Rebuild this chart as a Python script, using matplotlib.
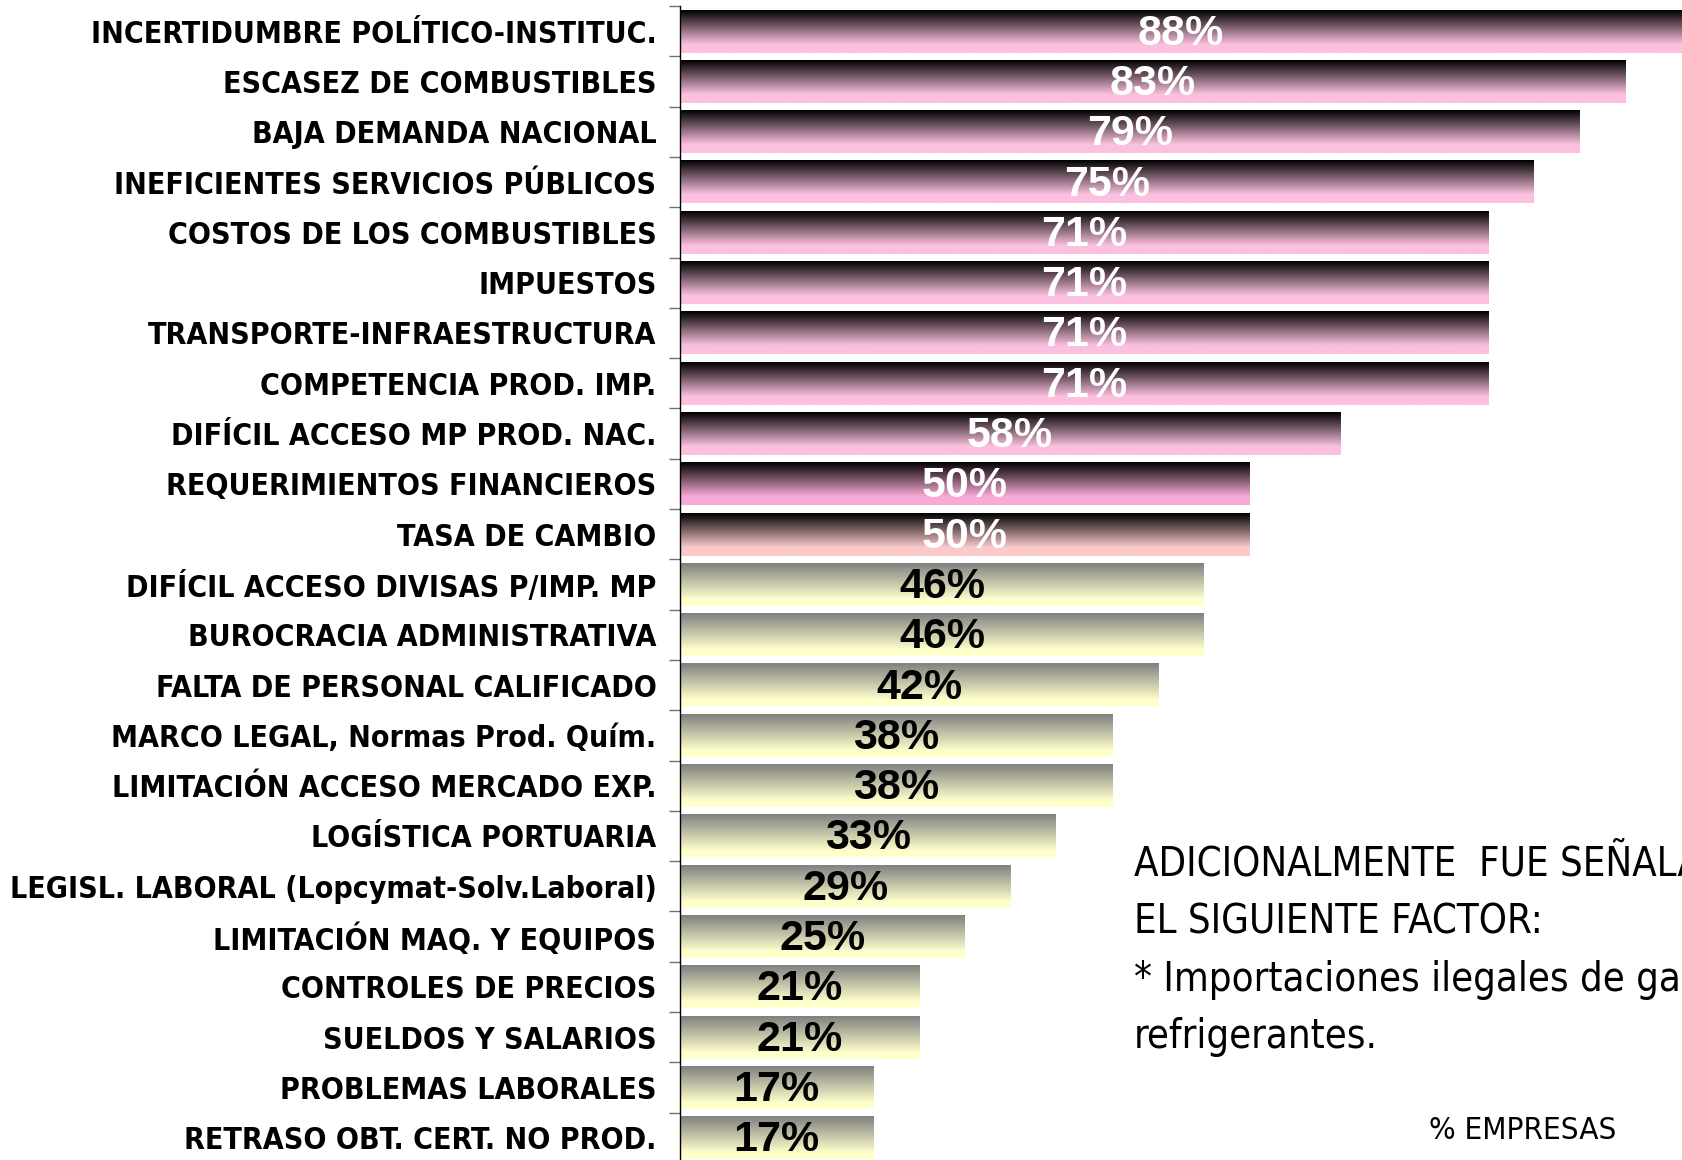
import numpy as np
import matplotlib
matplotlib.use("Agg")
import matplotlib.pyplot as plt
from matplotlib.colors import to_rgb
from matplotlib import font_manager as fm

# ---------------- data ----------------
categories = [
    "INCERTIDUMBRE POLÍTICO-INSTITUC.",
    "ESCASEZ DE COMBUSTIBLES",
    "BAJA DEMANDA NACIONAL",
    "INEFICIENTES SERVICIOS PÚBLICOS",
    "COSTOS DE LOS COMBUSTIBLES",
    "IMPUESTOS",
    "TRANSPORTE-INFRAESTRUCTURA",
    "COMPETENCIA PROD. IMP.",
    "DIFÍCIL ACCESO MP PROD. NAC.",
    "REQUERIMIENTOS FINANCIEROS",
    "TASA DE CAMBIO",
    "DIFÍCIL ACCESO DIVISAS P/IMP. MP",
    "BUROCRACIA ADMINISTRATIVA",
    "FALTA DE PERSONAL CALIFICADO",
    "MARCO LEGAL, Normas Prod. Quím.",
    "LIMITACIÓN ACCESO MERCADO EXP.",
    "LOGÍSTICA PORTUARIA",
    "LEGISL. LABORAL (Lopcymat-Solv.Laboral)",
    "LIMITACIÓN MAQ. Y EQUIPOS",
    "CONTROLES DE PRECIOS",
    "SUELDOS Y SALARIOS",
    "PROBLEMAS LABORALES",
    "RETRASO OBT. CERT. NO PROD.",
]
values = [88, 83, 79, 75, 71, 71, 71, 71, 58, 50, 50,
          46, 46, 42, 38, 38, 33, 29, 25, 21, 21, 17, 17]
group = ["alto"] * 11 + ["medio"] * 12

note_lines = [
    "ADICIONALMENTE  FUE SEÑALADO",
    "EL SIGUIENTE FACTOR:",
    "* Importaciones ilegales de gases",
    "refrigerantes.",
]
unit_label = "% EMPRESAS"

# ---------------- style ----------------
W, H = 1682, 1160
DPI = 100

# pick a narrow bold font for category labels if one is available
entries = fm.fontManager.ttflist
names = {f.name for f in entries}
label_kw = dict(fontweight="bold")
if "Liberation Sans Narrow" in names:
    label_kw.update(family=["Liberation Sans Narrow", "DejaVu Sans"], fontsize=26)
elif any(f.name == "DejaVu Sans" and f.stretch == "condensed" for f in entries):
    label_kw.update(family=["DejaVu Sans"], fontstretch="condensed", fontsize=21.7)
else:
    label_kw.update(family=["Liberation Sans", "DejaVu Sans"], fontsize=22)

value_font = ["Liberation Sans", "DejaVu Sans"]

pink_bottoms = ["#FBC0DF"] * 9 + ["#F8AAD6", "#FBCACA"]
gray_top = "#808080"
yellow_bottom = "#FFFFCC"

fig = plt.figure(figsize=(W / DPI, H / DPI), dpi=DPI)
fig.patch.set_facecolor("white")

n = len(categories)
pitch = 50.3
top_px = 6
ax_h = n * pitch
ax = fig.add_axes([680 / W, (H - top_px - ax_h) / H, 1002 / W, ax_h / H])

ypos = np.arange(n)
bars = ax.barh(ypos, values, height=0.85, color="none", edgecolor="none")
ax.set_xlim(0, 88)
ax.set_ylim(n - 0.5, -0.5)
ax.set_autoscale_on(False)


def gradient_img(top, bottom, steps=200, reach=0.8):
    t = np.linspace(0, 1, steps)
    t = np.clip(t / reach, 0, 1)
    top = np.array(to_rgb(top))
    bottom = np.array(to_rgb(bottom))
    img = top[None, :] + (bottom - top)[None, :] * t[:, None]
    return img[:, None, :]


for i, (b, v, g) in enumerate(zip(bars, values, group)):
    x0, y0 = b.get_x(), b.get_y()
    w, h = b.get_width(), b.get_height()
    if g == "alto":
        img = gradient_img("#000000", pink_bottoms[i], reach=0.8)
        tcolor = "white"
    else:
        img = gradient_img(gray_top, yellow_bottom, reach=0.85)
        tcolor = "black"
    ax.imshow(img, extent=(x0, x0 + w, y0 + h, y0), origin="upper",
              aspect="auto", interpolation="bilinear", zorder=2)
    ax.text(x0 + w / 2, y0 + h / 2 + 0.05, f"{v}%", ha="center", va="center",
            color=tcolor, fontsize=31, fontweight="bold", family=value_font,
            zorder=3)

# axes styling
for s in ["top", "right", "bottom"]:
    ax.spines[s].set_visible(False)
ax.spines["left"].set_color("black")
ax.spines["left"].set_linewidth(1.0)
ax.set_xticks([])
ax.set_yticks(ypos)
ax.set_yticklabels(categories, **label_kw)
ax.tick_params(axis="y", which="major", length=0, pad=17)
ax.set_yticks(np.arange(-0.5, n, 1.0), minor=True)
ax.tick_params(axis="y", which="minor", length=8, width=1.0, color="#707070")
ax.set_facecolor("none")

# side note
note_x = 1134 / W
baselines = [876, 933, 991, 1048]
for line, b in zip(note_lines, baselines):
    fig.text(note_x, (H - b) / H, line, ha="left", va="baseline",
             fontsize=28.7, family="DejaVu Sans", fontstretch="condensed",
             color="black")

fig.text(1429 / W, (H - 1139) / H, unit_label, ha="left", va="baseline",
         fontsize=22.5, family="DejaVu Sans", fontstretch="condensed",
         color="black")

fig.savefig("out.png", dpi=DPI, facecolor="white")
